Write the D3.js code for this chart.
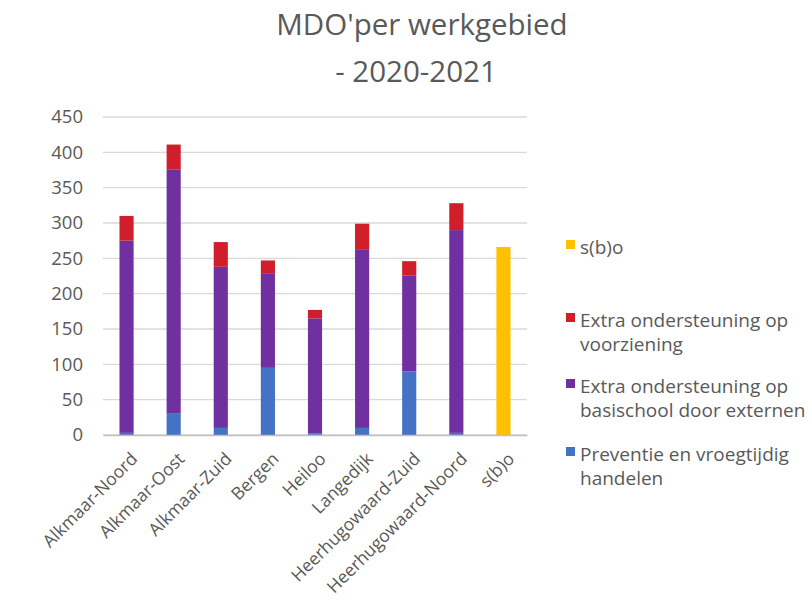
<!DOCTYPE html>
<html>
<head>
<meta charset="utf-8">
<script src="https://cdn.jsdelivr.net/npm/d3@7"></script>
<style>
  body { margin: 0; background: #fff; }
  svg { font-family: "Open Sans", sans-serif; }
</style>
</head>
<body>
<div id="chart"></div>
<script>
// values
const regions = ['Alkmaar-Noord', 'Alkmaar-Oost', 'Alkmaar-Zuid', 'Bergen', 'Heiloo',
  'Langedijk', 'Heerhugowaard-Zuid', 'Heerhugowaard-Noord', 's(b)o'];
const preventie = [3, 31, 10, 95, 2, 10, 90, 3, 0];
const basisschool = [272, 345, 228, 134, 163, 252, 136, 287, 0];
const voorziening = [35, 35, 35, 18, 12, 37, 20, 38, 0];
const sbo = [0, 0, 0, 0, 0, 0, 0, 0, 266];
const yTicks = [0, 50, 100, 150, 200, 250, 300, 350, 400, 450];

const seriesNames = ['Preventie en vroegtijdig handelen', 'Extra ondersteuning op basischool door externen',
  'Extra ondersteuning op voorziening', 's(b)o'];
const seriesColors = ['#4472C4', '#7030A0', '#D01E2A', '#FFC000'];

const width = 812, height = 610;
const margin = {top: 117, right: 285, bottom: 175, left: 103};
const textColor = '#595959';

const svg = d3.select('#chart').append('svg')
  .attr('width', width)
  .attr('height', height);

const rows = regions.map((r, i) => ({
  region: r,
  s0: preventie[i], s1: basisschool[i], s2: voorziening[i], s3: sbo[i]
}));
const stacked = d3.stack().keys(['s0', 's1', 's2', 's3'])(rows);

const x = d3.scaleBand()
  .domain(regions)
  .range([margin.left, width - margin.right])
  .paddingInner(0.7)
  .paddingOuter(0.35);

const y = d3.scaleLinear()
  .domain([0, 450])
  .range([height - margin.bottom, margin.top]);

// gridlines
svg.append('g')
  .selectAll('line')
  .data(yTicks)
  .join('line')
    .attr('x1', margin.left)
    .attr('x2', width - margin.right)
    .attr('y1', d => y(d))
    .attr('y2', d => y(d))
    .attr('stroke', '#d9d9d9')
    .attr('stroke-width', 1.3);

// y axis labels
const yAxis = svg.append('g')
  .attr('transform', `translate(${margin.left - 20}, 0)`)
  .call(d3.axisLeft(y).tickValues(yTicks).tickSize(0).tickPadding(0));
yAxis.select('.domain').remove();
yAxis.selectAll('text')
  .attr('fill', textColor)
  .attr('font-size', 18.5)
  .attr('font-family', '"Open Sans", sans-serif');

// bars
svg.append('g')
  .selectAll('g')
  .data(stacked)
  .join('g')
    .attr('fill', (d, i) => seriesColors[i])
  .selectAll('rect')
  .data(d => d)
  .join('rect')
    .attr('x', d => x(d.data.region))
    .attr('width', x.bandwidth())
    .attr('y', d => y(d[1]))
    .attr('height', d => y(d[0]) - y(d[1]));

// x axis
const xAxis = svg.append('g')
  .attr('transform', `translate(0, ${height - margin.bottom})`)
  .call(d3.axisBottom(x).tickSize(0).tickPadding(0));
xAxis.select('.domain').attr('stroke', '#bfbfbf').attr('stroke-width', 1.3);
xAxis.selectAll('text')
  .attr('fill', textColor)
  .attr('font-size', 17.5)
  .attr('font-family', '"Open Sans", sans-serif')
  .attr('text-anchor', 'end')
  .attr('dy', null)
  .attr('y', 0)
  .attr('transform', 'translate(12, 25) rotate(-45)');

// title
const title = svg.append('text')
  .attr('text-anchor', 'middle')
  .attr('fill', textColor)
  .attr('font-size', 29.5);
title.append('tspan').attr('x', 422).attr('y', 35).text("MDO'per werkgebied");
title.append('tspan').attr('x', 416).attr('y', 82).text('- 2020-2021');

// legend (top to bottom: s(b)o, voorziening, basisschool, preventie)
const legendItems = [
  {i: 3, lines: ['s(b)o'], y: 254},
  {i: 2, lines: ['Extra ondersteuning op', 'voorziening'], y: 327},
  {i: 1, lines: ['Extra ondersteuning op', 'basischool door externen'], y: 393},
  {i: 0, lines: ['Preventie en vroegtijdig', 'handelen'], y: 461}
];
const legend = svg.append('g');
legendItems.forEach(item => {
  legend.append('rect')
    .attr('x', 566)
    .attr('y', item.y - 14)
    .attr('width', 9)
    .attr('height', 9)
    .attr('fill', seriesColors[item.i]);
  const t = legend.append('text')
    .attr('fill', textColor)
    .attr('font-size', 19);
  item.lines.forEach((l, k) => {
    t.append('tspan').attr('x', 580).attr('y', item.y + k * 24).text(l);
  });
});
</script>
</body>
</html>
